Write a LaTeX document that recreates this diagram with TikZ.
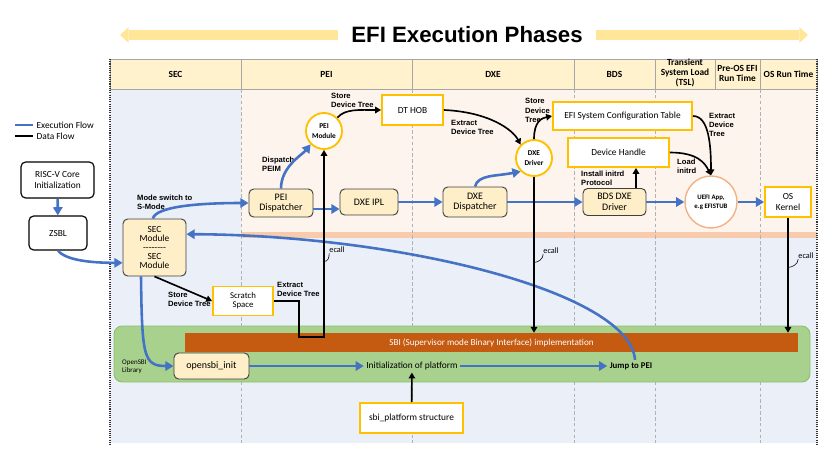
\documentclass[tikz,border=0pt]{standalone}
\usepackage{fontspec}
\setmainfont{Carlito}
\newfontfamily\arialfont{Liberation Sans}
\usepackage{tikz}
\usetikzlibrary{arrows.meta}

\definecolor{hdrfill}{HTML}{FFF2CC}
\definecolor{boxfill}{HTML}{FFEFC8}
\definecolor{secblue}{HTML}{EBF0F8}
\definecolor{peach}{HTML}{FDF4EE}
\definecolor{stripe}{HTML}{F8CBAD}
\definecolor{flowblue}{HTML}{4472C4}
\definecolor{goldedge}{HTML}{FFC000}
\definecolor{ringedge}{HTML}{F4B183}
\definecolor{libgreen}{HTML}{A9D18E}
\definecolor{libedge}{HTML}{8CBF6E}
\definecolor{sbirust}{HTML}{C55A11}
\definecolor{bannerarrow}{HTML}{FFE699}
\definecolor{boxedge}{HTML}{3F3F3F}

\tikzset{
	phasebox/.style={draw=boxedge, fill=boxfill, line width=0.8pt, rounded corners=4pt, align=center, inner sep=1pt, font=\fontsize{8.5}{9}\selectfont},
	whitebox/.style={draw=black, fill=white, line width=1pt, rounded corners=4pt, align=center, inner sep=1pt, font=\fontsize{8}{9.5}\selectfont},
	goldbox/.style={draw=goldedge, fill=white, line width=1.6pt, align=center, inner sep=1pt, font=\fontsize{8}{9}\selectfont},
	goldring/.style={circle, draw=goldedge, fill=white, line width=1.6pt, align=center, inner sep=0pt, font=\bfseries\fontsize{6.3}{8.3}\selectfont},
	hdr/.style={align=center, font=\bfseries\fontsize{8}{8.6}\selectfont},
	flowtag/.style={align=left, anchor=west, inner sep=0pt, font=\arialfont\bfseries\fontsize{6.5}{7.8}\selectfont},
	ecalltag/.style={inner sep=0pt, font=\fontsize{7}{8}\selectfont},
	legendtag/.style={right, inner sep=2pt, text=black, font=\fontsize{8}{9}\selectfont},
	xflow/.style={flowblue, line width=2.2pt, -{Triangle[length=7pt,width=8pt]}},
	dflow/.style={black, line width=1.4pt, -{Triangle[length=5pt,width=5.5pt]}},
	calloutline/.style={black, line width=0.5pt},
	colline/.style={gray!60, line width=0.5pt, densely dashed},
	hdrline/.style={gray!70, line width=0.5pt},
	edgeline/.style={black!80, line width=0.9pt, densely dotted},
	banner/.style={bannerarrow, line width=3mm, -{Triangle[length=2.6mm,width=4.8mm,line width=0pt]}}
}

\begin{document}
\begin{tikzpicture}[x=0.3mm, y=-0.3mm]
	\useasboundingbox (0,0) rectangle (833,461);

	% banner
	\node[font=\arialfont\bfseries\fontsize{19}{22}\selectfont, inner sep=0pt] (title) at (467,35) {EFI Execution Phases};
	\coordinate (bannerL) at (120,35);
	\coordinate (bannerR) at (808,35);
	\draw[banner] ([xshift=-4mm]title.west) -- (bannerL);
	\draw[banner] ([xshift=4mm]title.east) -- (bannerR);

	% phase table
	\fill[secblue] (110,89) rectangle (241,443);
	\fill[peach] (241,89) rectangle (817,232);
	\fill[stripe] (241,232) rectangle (817,238);
	\fill[secblue] (241,238) rectangle (817,443);
	\draw[hdrline, fill=hdrfill] (110,59) rectangle (817,89);
	\foreach \x in {241,412,574,655,715,760}
		\draw[hdrline] (\x,59) -- (\x,89);
	\foreach \x in {241,412,574,655,760}
		\draw[colline] (\x,89) -- (\x,443);
	\draw[edgeline] (110,59) -- (110,446);
	\draw[edgeline] (817,59) -- (817,446);

	\node[hdr] (hsec) at (175.5,74) {SEC};
	\node[hdr] (hpei) at (326.5,74) {PEI};
	\node[hdr] (hdxe) at (493,74) {DXE};
	\node[hdr] (hbds) at (614.5,74) {BDS};
	\node[hdr] (htsl) at (685,73) {Transient\\System Load\\(TSL)};
	\node[hdr] (hpre) at (737.5,73) {Pre-OS EFI\\Run Time};
	\node[hdr] (hos) at (788.5,74) {OS Run Time};

	% legend
	\draw[flowblue, line width=2.2pt] (15,125) -- (33,125) node[legendtag] (lgexec) {Execution Flow};
	\draw[black, line width=2.2pt] (15,136) -- (33,136) node[legendtag] (lgdata) {Data Flow};

	% opensbi library
	\draw[libedge, fill=libgreen, line width=0.8pt, rounded corners=7pt] (114,326) rectangle (810,382);
	\node[fill=sbirust, text=white, minimum width=183.9mm, minimum height=5.7mm, inner sep=0pt, font=\fontsize{7.8}{9}\selectfont] (sbi) at (491.5,342.5) {SBI (Supervisor mode Binary Interface) implementation};
	\node[align=left, anchor=west, inner sep=0pt, font=\fontsize{6}{7.2}\selectfont] (sbilib) at (122,366.5) {OpenSBI\\Library};

	% boot
	\node[whitebox, minimum width=21.9mm, minimum height=10.8mm] (riscv) at (57.5,180) {RISC-V Core\\Initialization};
	\node[whitebox, minimum width=17.4mm, minimum height=10.2mm] (zsbl) at (58,233) {ZSBL};

	% sec
	\node[phasebox, minimum width=18.9mm, minimum height=17.1mm, font=\fontsize{8}{7.8}\selectfont] (sec) at (154.5,247.5) {SEC\\Module\\{-}{-}{-}{-}{-}{-}{-}{-}\\SEC\\Module};
	\node[goldbox, minimum width=18mm, minimum height=8.7mm, font=\fontsize{7.5}{7.5}\selectfont] (scratch) at (243,301) {Scratch\\Space};

	% pei
	\node[phasebox, minimum width=19.2mm, minimum height=8.4mm] (peidisp) at (281,203) {PEI\\Dispatcher};
	\node[goldring, minimum size=10.8mm] (peimod) at (324,131) {PEI\\Module};
	\node[goldbox, minimum width=18.3mm, minimum height=9mm] (dthob) at (412.5,110) {DT HOB};

	% dxe
	\node[phasebox, minimum width=17.4mm, minimum height=7.8mm] (dxeipl) at (369,202) {DXE IPL};
	\node[phasebox, minimum width=19.2mm, minimum height=9mm] (dxedisp) at (475,202) {DXE\\Dispatcher};
	\node[goldring, minimum size=10.8mm] (dxedrv) at (534,158) {DXE\\Driver};
	\node[goldbox, minimum width=41.7mm, minimum height=8.4mm] (efisct) at (622.5,116) {EFI System Configuration Table};

	% bds
	\node[goldbox, minimum width=30.3mm, minimum height=8.7mm] (devhdl) at (618.5,152.5) {Device Handle};
	\node[phasebox, minimum width=18.9mm, minimum height=8.1mm] (bdsdxe) at (614.5,202) {BDS DXE\\Driver};

	% tsl and os
	\node[circle, draw=ringedge, fill=white, line width=1.2pt, minimum size=15.6mm, inner sep=0pt, align=center, font=\bfseries\fontsize{5.8}{7.5}\selectfont] (uefi) at (711,202) {UEFI App,\\e.g EFISTUB};
	\node[goldbox, minimum width=13.8mm, minimum height=9mm] (oskrn) at (788,202) {OS\\Kernel};

	% opensbi
	\node[phasebox, minimum width=22.5mm, minimum height=7.8mm] (sbiinit) at (211.5,366) {opensbi\_init};
	\node[inner sep=2pt, font=\fontsize{8}{9}\selectfont] (platinit) at (412,366) {Initialization of platform};
	\node[inner sep=2pt, font=\bfseries\fontsize{7.5}{9}\selectfont] (jumppei) at (631,366) {Jump to PEI};
	\node[goldbox, minimum width=30.9mm, minimum height=9mm] (sbiplat) at (411.5,418) {sbi\_platform structure};

	% labels
	\node[flowtag] (lmode) at (137,202) {Mode switch to\\S-Mode};
	\node[flowtag] (ldisp) at (262,164) {Dispatch\\PEIM};
	\node[flowtag] (lstore1) at (331,100.5) {Store\\Device Tree};
	\node[flowtag] (lext1) at (451,127) {Extract\\Device Tree};
	\node[flowtag] (lstore2) at (525,110.5) {Store\\Device\\Tree};
	\node[flowtag] (lext2) at (709,125) {Extract\\Device\\Tree};
	\node[flowtag] (lload) at (677,166.5) {Load\\initrd};
	\node[flowtag] (linst) at (581,178) {Install initrd\\Protocol};
	\node[flowtag] (lstore3) at (168,299.5) {Store\\Device Tree};
	\node[flowtag] (lext3) at (277,289.5) {Extract\\Device Tree};

	\node[ecalltag] (ecpei) at (337,250) {ecall};
	\node[ecalltag] (ecdxe) at (551,251) {ecall};
	\node[ecalltag] (ecos) at (806,256) {ecall};

	% execution flow
	\draw[xflow] (riscv) -- (zsbl);
	\draw[xflow] (zsbl.south) .. controls +(8,10) and +(-30,0) .. ([yshift=-4.6mm]sec.west);
	\draw[xflow] ([xshift=-0.5mm]sec.north) .. controls +(3,-12) and +(-50,0) .. (peidisp.west);
	\draw[xflow] (peidisp.north) .. controls +(0,-22) and +(-8,10) .. (peimod.south west);
	\draw[xflow] ([yshift=-1.8mm]peidisp.east) -- ([yshift=-1.8mm]peidisp.east -| dxeipl.west);
	\draw[xflow] (dxeipl) -- (dxedisp);
	\draw[xflow] (dxedisp.north) .. controls +(3,-12) and +(-25,5) .. (dxedrv.south west);
	\draw[xflow] (dxedisp) -- (bdsdxe);
	\draw[xflow] (bdsdxe) -- (uefi);
	\draw[xflow] (uefi) -- (oskrn);
	\draw[xflow] ([xshift=-4.05mm]sec.south) .. controls +(1,80) and +(-30,0) .. (sbiinit.west);
	\draw[xflow] (sbiinit) -- (platinit);
	\draw[xflow] (platinit) -- (jumppei);
	\draw[xflow] ([xshift=1.2mm]jumppei.north) .. controls +(-5,-68) and +(213,1) .. ([yshift=4mm]sec.east);

	% data flow
	\draw[dflow] (peimod.north east) .. controls +(8,-9) and +(-22,0) .. (dthob.west);
	\draw[dflow] (dthob.east) .. controls +(45,2) and +(-8,-15) .. (dxedrv.north west);
	\draw[dflow] (dxedrv.north) .. controls +(0,-18) and +(-10,2) .. (efisct.west);
	\draw[dflow] (efisct.east) .. controls +(16,0) and +(0,-30) .. (uefi.north);
	\draw[dflow] (devhdl.east) .. controls +(28,0) and +(-6,-12) .. (uefi.north);
	\draw[dflow] ([xshift=6.45mm]bdsdxe.north) -- ([xshift=6.45mm]bdsdxe.north |- devhdl.south);
	\draw[dflow] (sec.south) -- (scratch.west);
	\coordinate (dip) at (299,337);
	\draw[dflow] (scratch.east) -| (dip) -- (dip -| peimod.south) -- (peimod.south);
	\draw[dflow] (dxedrv.south) -- (dxedrv.south |- sbi.north);
	\draw[dflow] (oskrn.south) -- (oskrn.south |- sbi.north);
	\draw[dflow] (sbiplat) -- (platinit);

	% ecall callouts
	\draw[calloutline] (ecpei.south west) .. controls +(0,5) and +(4,0) .. ([yshift=-2.5mm]ecpei.south west -| peimod.south);
	\draw[calloutline] (ecdxe.south west) .. controls +(0,5) and +(4,0) .. ([yshift=-2.5mm]ecdxe.south west -| dxedrv.south);
	\draw[calloutline] (ecos.south west) .. controls +(0,5) and +(4,0) .. ([yshift=-2.5mm]ecos.south west -| oskrn.south);

\end{tikzpicture}
\end{document}
